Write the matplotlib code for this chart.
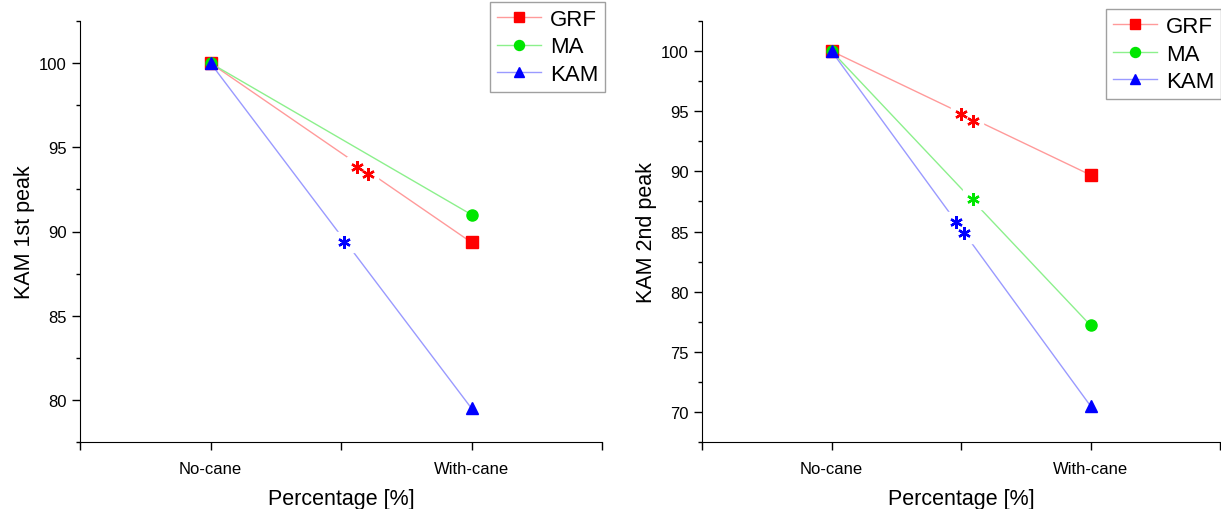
import matplotlib
matplotlib.use('Agg')
import matplotlib.pyplot as plt
from matplotlib.ticker import MultipleLocator

plt.rcParams['font.family'] = ['Liberation Sans', 'DejaVu Sans']

conditions = ['No-cane', 'With-cane']
series = ['GRF', 'MA', 'KAM']

peak1_grf = [100, 89.35]
peak1_ma = [100, 91.0]
peak1_kam = [100, 79.5]

peak2_grf = [100, 89.7]
peak2_ma = [100, 77.2]
peak2_kam = [100, 70.5]

# significance stars (x position between categories, y value, series)
stars1 = [(1.56, 93.85, 'GRF'), (1.605, 93.4, 'GRF'), (1.51, 89.35, 'KAM')]
stars2 = [(1.50, 94.75, 'GRF'), (1.545, 94.2, 'GRF'), (1.545, 87.7, 'MA'),
          (1.48, 85.8, 'KAM'), (1.51, 84.9, 'KAM')]

mark_col = {'GRF': '#ff0000', 'MA': '#00e600', 'KAM': '#0000ff'}
line_col = {'GRF': '#ff9a9a', 'MA': '#8cf08c', 'KAM': '#9a9aff'}
markers = {'GRF': 's', 'MA': 'o', 'KAM': '^'}

fig = plt.figure(figsize=(12.21, 5.10), dpi=100)
ax1 = fig.add_axes([80/1221, 67/510, 522/1221, 421/510])
ax2 = fig.add_axes([702/1221, 67/510, 518/1221, 421/510])


def draw(ax, data, stars, ylab, ylim, ymaj, legpos):
    xs = [1, 2]
    for name, vals in zip(series, data):
        ax.plot(xs, vals, color=line_col[name], lw=1, marker=markers[name],
                markersize=8, markerfacecolor=mark_col[name],
                markeredgecolor=mark_col[name], label=name, zorder=3)
    for x, y, name in stars:
        ax.plot([x], [y], marker='s', markersize=14, color='white', zorder=4)
        ax.plot([x], [y], marker=(6, 2, 0), markersize=9, mew=1.7,
                color=mark_col[name], zorder=5)
    ax.set_xlim(0.5, 2.5)
    ax.set_ylim(*ylim)
    ax.set_xticks([0.5, 1, 1.5, 2, 2.5])
    ax.set_xticklabels(['', conditions[0], '', conditions[1], ''])
    ax.yaxis.set_major_locator(MultipleLocator(ymaj))
    ax.yaxis.set_minor_locator(MultipleLocator(ymaj / 2))
    ax.spines['top'].set_visible(False)
    ax.spines['right'].set_visible(False)
    ax.tick_params(axis='both', which='major', direction='out', length=6,
                   width=1, labelsize=12)
    ax.tick_params(axis='y', which='minor', direction='out', length=3, width=1)
    ax.tick_params(axis='x', pad=8)
    ax.set_xlabel('Percentage [%]', fontsize=15.5, labelpad=8)
    ax.set_ylabel(ylab, fontsize=15.5, labelpad=3)
    leg = ax.legend(loc='upper right', bbox_to_anchor=legpos, fontsize=16,
                    fancybox=False, edgecolor='#888888', handlelength=2.0,
                    borderpad=0.3, labelspacing=0.3, handletextpad=0.4,
                    borderaxespad=0, markerscale=0.9)
    leg.get_frame().set_linewidth(1)


draw(ax1, [peak1_grf, peak1_ma, peak1_kam], stars1, 'KAM 1st peak',
     (77.5, 102.5), 5, (1.006, 1.045))
draw(ax2, [peak2_grf, peak2_ma, peak2_kam], stars2, 'KAM 2nd peak',
     (67.5, 102.5), 5, (1.002, 1.028))

fig.savefig('out.png', dpi=100)
